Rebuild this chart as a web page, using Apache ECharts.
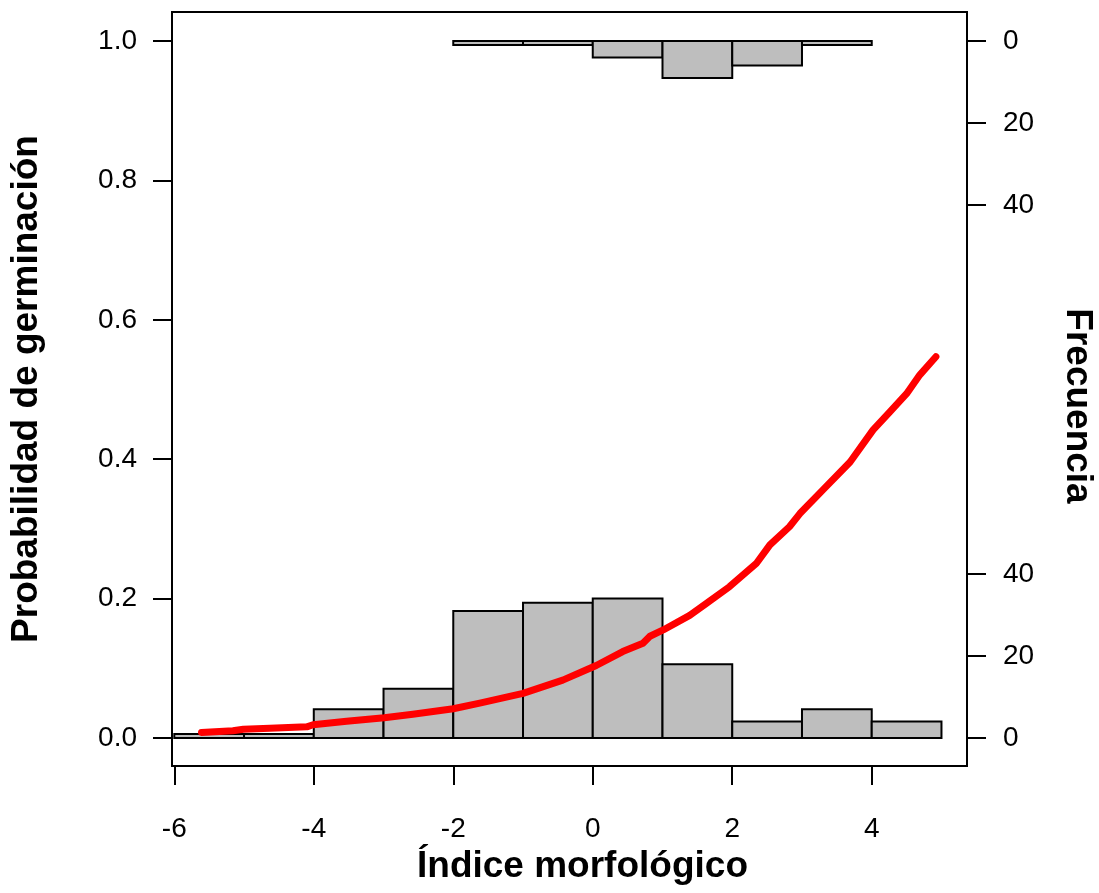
<!DOCTYPE html>
<html>
<head>
<meta charset="utf-8">
<script src="https://cdn.jsdelivr.net/npm/echarts@6/dist/echarts.min.js"></script>
<style>html,body{margin:0;padding:0;background:#fff}#c{width:1099px;height:893px}</style>
</head>
<body>
<div id="c"></div>
<script>
// Histogram bins (Índice morfológico) and counts
var binEdgesBottom = [-6, -5, -4, -3, -2, -1, 0, 1, 2, 3, 4, 5];
var countsBottom   = [1, 1, 7, 12, 31, 33, 34, 18, 4, 7, 4];
var binEdgesTop    = [-2, -1, 0, 1, 2, 3, 4];
var countsTop      = [1, 1, 4, 9, 6, 1];
// Fitted logistic curve
var curveX = [-5.61, -5.16, -5.01, -4.63, -4.10, -4.01, -3.53, -2.99, -2.58, -2.00, -1.62, -1.00, -0.43, 0.05, 0.43, 0.72, 0.82, 1.01, 1.39, 1.63, 1.96, 2.35, 2.54, 2.82, 2.97, 3.30, 3.69, 4.02, 4.26, 4.50, 4.69, 4.92];
var curveY = [0.008, 0.0105, 0.0125, 0.014, 0.016, 0.019, 0.024, 0.029, 0.034, 0.042, 0.050, 0.064, 0.083, 0.104, 0.124, 0.136, 0.146, 0.155, 0.176, 0.193, 0.217, 0.251, 0.277, 0.303, 0.322, 0.356, 0.396, 0.442, 0.468, 0.494, 0.521, 0.547];
// Tick labels
var xTicks = [-6, -4, -2, 0, 2, 4];
var yTicks = [0, 0.2, 0.4, 0.6, 0.8, 1.0];
var freqTicks = [0, 20, 40];
// Frequency scale: count units that span probability 0..1
var countsPerUnit = 170;

var FONT = "'Liberation Sans', Arial, sans-serif";
var yMin = -0.0402, yMax = 1.0416;

var bottomData = countsBottom.map(function (c, i) { return [binEdgesBottom[i], binEdgesBottom[i + 1], c]; });
var topData = countsTop.map(function (c, i) { return [binEdgesTop[i], binEdgesTop[i + 1], c]; });
var rightTickVals = freqTicks.concat(freqTicks.map(function (t) { return countsPerUnit - t; }).reverse());

function histRender(isTop) {
  return function (params, api) {
    var x0 = api.value(0), x1 = api.value(1), c = api.value(2);
    var base = isTop ? countsPerUnit : 0;
    var end = isTop ? countsPerUnit - c : c;
    var p0 = api.coord([x0, base]);
    var p1 = api.coord([x1, end]);
    return {
      type: 'rect',
      shape: { x: p0[0], y: Math.min(p0[1], p1[1]), width: p1[0] - p0[0], height: Math.abs(p1[1] - p0[1]) },
      style: { fill: '#BEBEBE', stroke: '#000', lineWidth: 2 }
    };
  };
}

var tickStyle = { color: '#000', width: 2 };
var chart = echarts.init(document.getElementById('c'), null, { renderer: 'canvas' });
chart.setOption({
  animation: false,
  backgroundColor: '#fff',
  grid: { left: 172, top: 12, right: 132, bottom: 127, outerBoundsMode: 'none', containLabel: false,
    show: true, borderColor: '#000', borderWidth: 2, backgroundColor: 'transparent' },
  xAxis: {
    type: 'value', min: -6.033, max: 5.366,
    axisLine: { show: false, onZero: false },
    splitLine: { show: false },
    axisTick: { show: true, customValues: xTicks, length: 19, lineStyle: tickStyle },
    axisLabel: { customValues: xTicks, color: '#000', fontSize: 28, fontFamily: FONT, margin: 49 },
    name: 'Índice morfológico', nameLocation: 'middle', nameGap: 81,
    nameTextStyle: { color: '#000', fontSize: 37, fontWeight: 'bold', fontFamily: FONT, padding: [0, 0, 0, 26] }
  },
  yAxis: [{
    type: 'value', min: yMin, max: yMax, position: 'left',
    axisLine: { show: false, onZero: false },
    splitLine: { show: false },
    axisTick: { show: true, customValues: yTicks, length: 19, lineStyle: tickStyle },
    axisLabel: { customValues: yTicks, color: '#000', fontSize: 28, fontFamily: FONT, margin: 35,
      formatter: function (v) { return v.toFixed(1); } },
    name: 'Probabilidad de germinación', nameLocation: 'middle', nameGap: 127,
    nameTextStyle: { color: '#000', fontSize: 37, fontWeight: 'bold', fontFamily: FONT }
  }, {
    type: 'value', min: yMin * countsPerUnit, max: yMax * countsPerUnit, position: 'right',
    axisLine: { show: false, onZero: false },
    splitLine: { show: false },
    axisTick: { show: true, customValues: rightTickVals, length: 19, lineStyle: tickStyle },
    axisLabel: { customValues: rightTickVals, color: '#000', fontSize: 28, fontFamily: FONT, margin: 36,
      formatter: function (v) { return String(v > countsPerUnit / 2 ? countsPerUnit - v : v); } },
    name: 'Frecuencia', nameLocation: 'middle', nameGap: 92, nameRotate: -90,
    nameTextStyle: { color: '#000', fontSize: 37, fontWeight: 'bold', fontFamily: FONT, padding: [0, 0, 0, 34] }
  }],
  series: [{
    type: 'custom', xAxisIndex: 0, yAxisIndex: 1, renderItem: histRender(false),
    data: bottomData, encode: { x: [0, 1], y: 2 }, z: 1
  }, {
    type: 'custom', xAxisIndex: 0, yAxisIndex: 1, renderItem: histRender(true),
    data: topData, encode: { x: [0, 1], y: 2 }, z: 1
  }, {
    type: 'line', xAxisIndex: 0, yAxisIndex: 0, z: 5,
    data: curveX.map(function (x, i) { return [x, curveY[i]]; }),
    showSymbol: false, smooth: false,
    lineStyle: { color: '#FF0000', width: 7, cap: 'round', join: 'round' }
  }]
});
</script>
</body>
</html>
